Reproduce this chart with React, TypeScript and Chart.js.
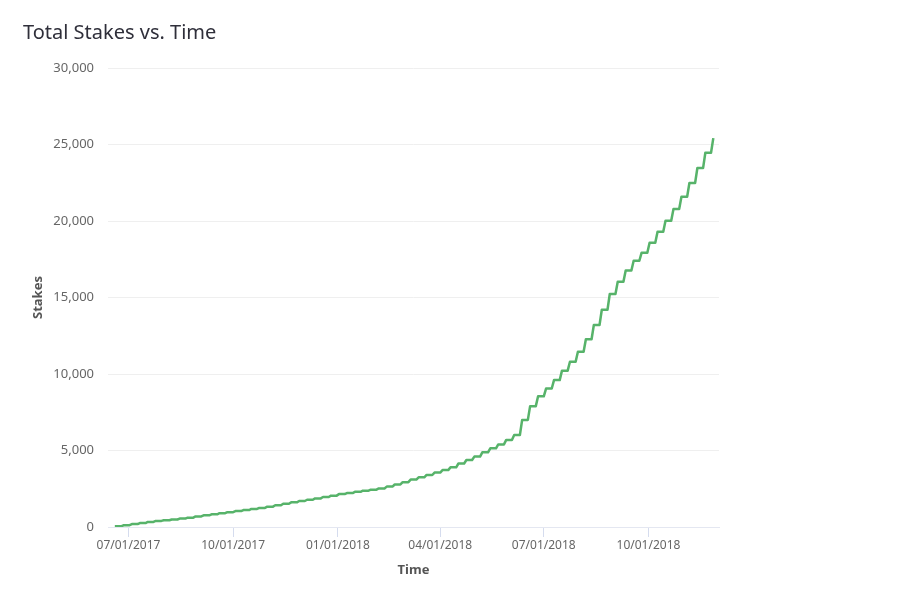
import React, { useEffect, useRef } from "react";
import { Chart, registerables } from "chart.js";

Chart.register(...registerables);

const TITLE = "Total Stakes vs. Time";
const X_TITLE = "Time";
const Y_TITLE = "Stakes";

// Weekly round dates (Mondays)
const weekDates: string[] = [
  "2017-06-19", "2017-06-26", "2017-07-03", "2017-07-10", "2017-07-17", "2017-07-24", "2017-07-31",
  "2017-08-07", "2017-08-14", "2017-08-21", "2017-08-28", "2017-09-04", "2017-09-11", "2017-09-18",
  "2017-09-25", "2017-10-02", "2017-10-09", "2017-10-16", "2017-10-23", "2017-10-30", "2017-11-06",
  "2017-11-13", "2017-11-20", "2017-11-27", "2017-12-04", "2017-12-11", "2017-12-18", "2017-12-25",
  "2018-01-01", "2018-01-08", "2018-01-15", "2018-01-22", "2018-01-29", "2018-02-05", "2018-02-12",
  "2018-02-19", "2018-02-26", "2018-03-05", "2018-03-12", "2018-03-19", "2018-03-26", "2018-04-02",
  "2018-04-09", "2018-04-16", "2018-04-23", "2018-04-30", "2018-05-07", "2018-05-14", "2018-05-21",
  "2018-05-28", "2018-06-04", "2018-06-11", "2018-06-18", "2018-06-25", "2018-07-02", "2018-07-09",
  "2018-07-16", "2018-07-23", "2018-07-30", "2018-08-06", "2018-08-13", "2018-08-20", "2018-08-27",
  "2018-09-03", "2018-09-10", "2018-09-17", "2018-09-24", "2018-10-01", "2018-10-08", "2018-10-15",
  "2018-10-22", "2018-10-29", "2018-11-05", "2018-11-12", "2018-11-19", "2018-11-26",
];

// Total stakes after each weekly round
const totalStakes: number[] = [
  50, 120, 190, 260, 330, 400, 440,
  490, 550, 610, 690, 760, 830, 900,
  970, 1040, 1110, 1180, 1250, 1330, 1420,
  1520, 1610, 1700, 1780, 1870, 1960, 2050,
  2150, 2220, 2300, 2370, 2440, 2520, 2640,
  2780, 2930, 3100, 3250, 3400, 3560, 3720,
  3900, 4150, 4380, 4600, 4880, 5140, 5400,
  5690, 6010, 7000, 7900, 8540, 9050, 9600,
  10220, 10800, 11460, 12270, 13200, 14200, 15230,
  16030, 16760, 17400, 17930, 18580, 19300, 20020,
  20780, 21590, 22480, 23460, 24460, 25420,
];

const xTickDates: string[] = [
  "2017-07-01", "2017-10-01", "2018-01-01", "2018-04-01", "2018-07-01", "2018-10-01",
];

const X_MIN = "2017-06-13";
const X_MAX = "2018-12-02";
const Y_MIN = 0;
const Y_MAX = 30000;
const Y_STEP = 5000;

// each weekly increase is spread over the day before and after the round date
const DAY_MS = 86400000;

const FONT = "'Noto Sans', sans-serif";

function fmtDate(ms: number): string {
  const d = new Date(ms);
  const mm = String(d.getUTCMonth() + 1).padStart(2, "0");
  const dd = String(d.getUTCDate()).padStart(2, "0");
  return `${mm}/${dd}/${d.getUTCFullYear()}`;
}

export default function App() {
  const ref = useRef<HTMLCanvasElement | null>(null);

  useEffect(() => {
    if (!ref.current) return;
    const data: { x: number; y: number }[] = [];
    weekDates.forEach((d, i) => {
      const t = Date.parse(d);
      if (i > 0) data.push({ x: t - DAY_MS, y: totalStakes[i - 1] });
      data.push({ x: i > 0 ? t + DAY_MS : t, y: totalStakes[i] });
    });
    const chart = new Chart(ref.current, {
      type: "line",
      data: {
        datasets: [
          {
            label: Y_TITLE,
            data,
            borderColor: "#57b36a",
            borderWidth: 2.5,
            borderJoinStyle: "round",
            pointRadius: 0,
            fill: false,
          },
        ],
      },
      options: {
        animation: false,
        responsive: false,
        maintainAspectRatio: false,
        layout: { padding: { left: 20, right: 181, top: 68, bottom: 25 } },
        plugins: {
          legend: { display: false },
          tooltip: { enabled: false },
          title: { display: false },
        },
        scales: {
          x: {
            type: "linear",
            min: Date.parse(X_MIN),
            max: Date.parse(X_MAX),
            afterBuildTicks: (scale: any) => {
              scale.ticks = xTickDates.map((d) => ({ value: Date.parse(d) }));
            },
            afterFit: (scale: any) => {
              scale.height = 57;
            },
            grid: {
              drawOnChartArea: false,
              drawTicks: true,
              tickLength: 10,
              color: "#d5dcee",
            },
            border: { display: true, color: "#e4e7f1", width: 1 },
            ticks: {
              padding: 1,
              maxRotation: 0,
              autoSkip: false,
              color: "#666666",
              font: { family: FONT, size: 12 },
              callback: (v: any) => fmtDate(Number(v)),
            },
            title: {
              display: true,
              text: X_TITLE,
              color: "#555555",
              font: { family: FONT, size: 13, weight: "bold" },
              padding: { top: 0, bottom: 6 },
            },
          },
          y: {
            min: Y_MIN,
            max: Y_MAX,
            afterFit: (scale: any) => {
              scale.width = 88;
            },
            grid: { color: "#efefef", drawTicks: false },
            border: { display: false },
            ticks: {
              stepSize: Y_STEP,
              padding: 14,
              color: "#666666",
              font: { family: FONT, size: 13 },
              callback: (v: any) => Number(v).toLocaleString("en-US"),
            },
            title: {
              display: true,
              text: Y_TITLE,
              color: "#555555",
              font: { family: FONT, size: 13, weight: "bold" },
              padding: { top: 10, bottom: 0 },
            },
          },
        },
      },
    });
    return () => chart.destroy();
  }, []);

  return (
    <div style={{ position: "absolute", left: 0, top: 0, width: 900, height: 609, background: "#fff" }}>
      <div
        style={{
          position: "absolute",
          left: 23,
          top: 20,
          fontFamily: FONT,
          fontSize: 20,
          lineHeight: "24px",
          color: "#2f2f3a",
          whiteSpace: "nowrap",
        }}
      >
        {TITLE}
      </div>
      <canvas ref={ref} width={900} height={609} style={{ display: "block", width: 900, height: 609 }} />
    </div>
  );
}
